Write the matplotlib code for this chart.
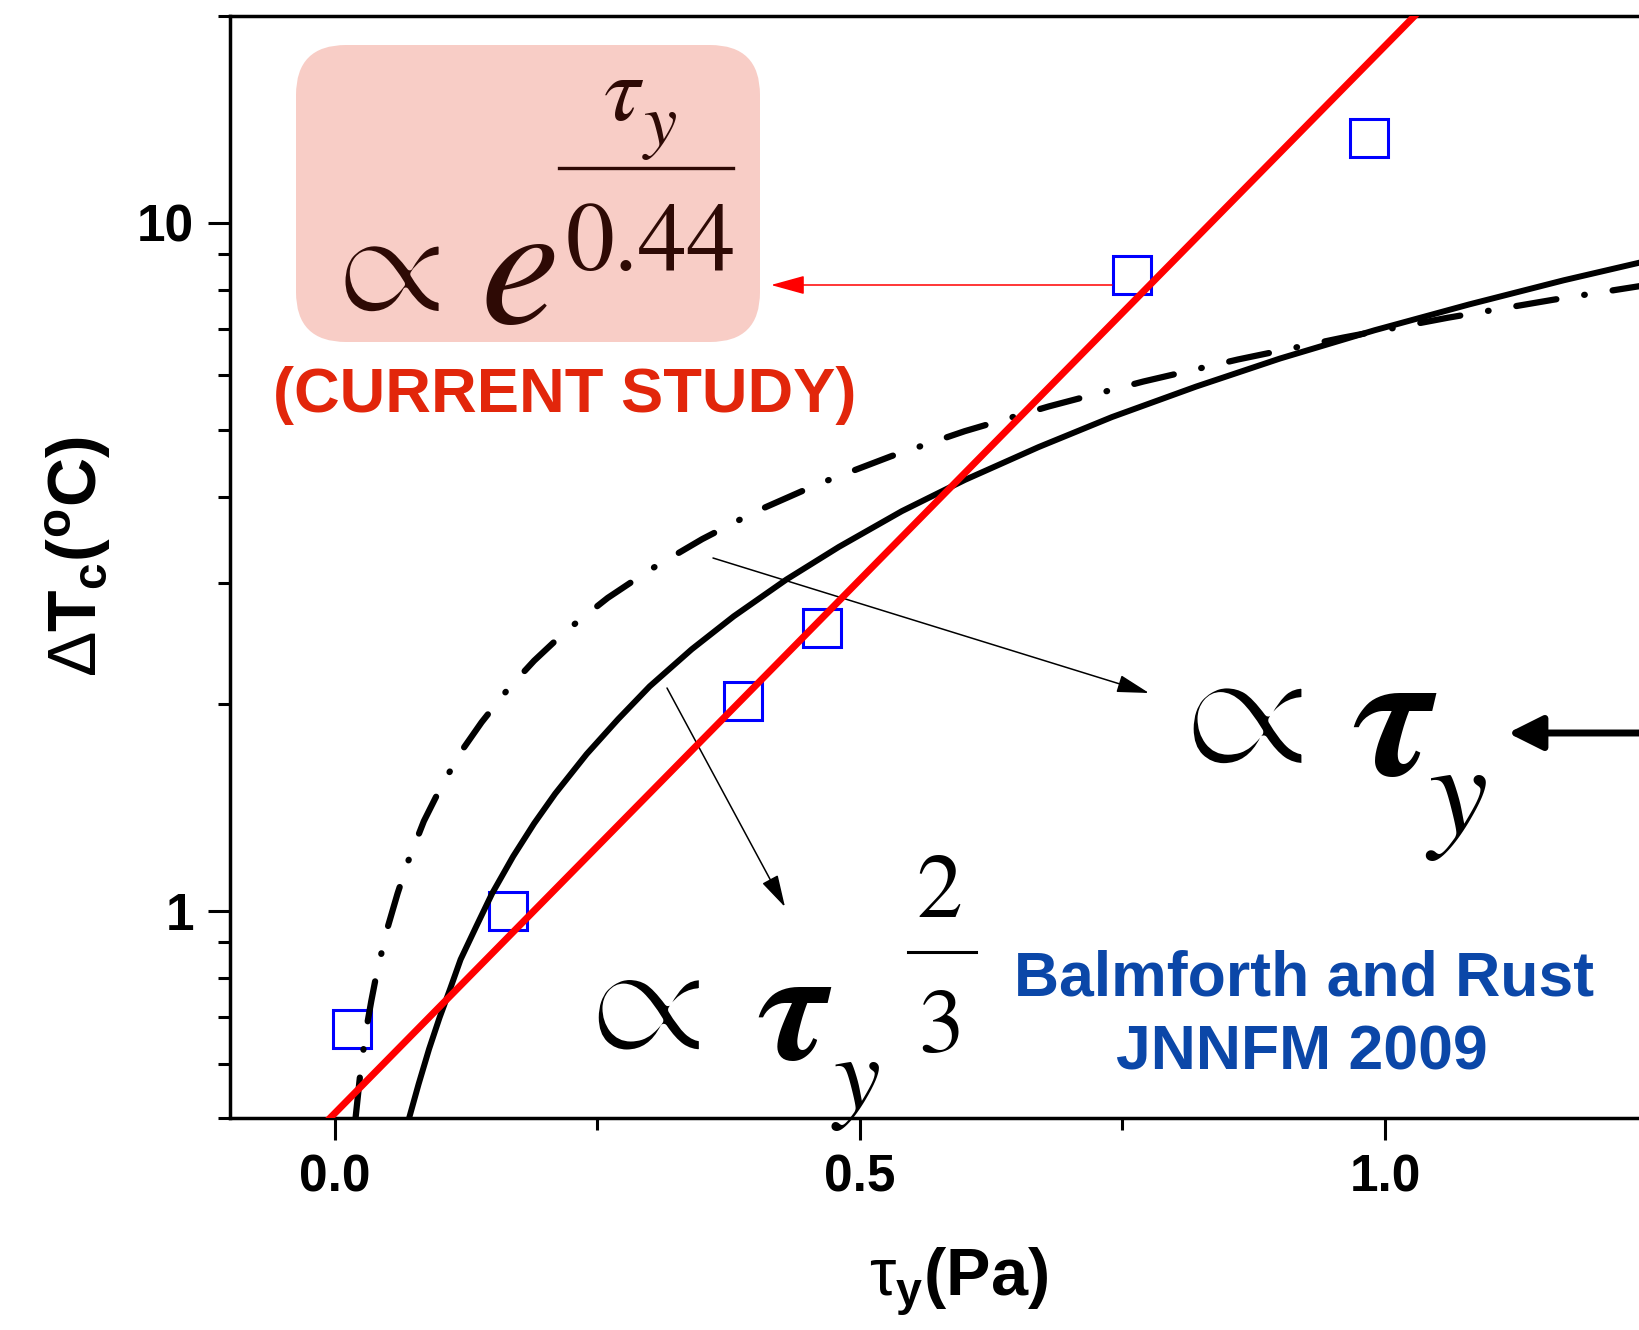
import numpy as np
import matplotlib
matplotlib.use("Agg")
import matplotlib.pyplot as plt
import matplotlib.patheffects as pe
from matplotlib.patches import FancyBboxPatch
from matplotlib.lines import Line2D
from matplotlib.ticker import LogLocator, MultipleLocator, NullFormatter

plt.rcParams.update({
    "font.family": "Liberation Sans",
    "font.weight": "bold",
    "mathtext.fontset": "custom",
    "mathtext.rm": "Liberation Sans:weight=normal",
    "mathtext.bf": "Liberation Sans:weight=bold",
    "mathtext.it": "Liberation Sans:italic:weight=normal",
})

# -----------------------------
# Data
# -----------------------------
tau_pts = [0.017, 0.165, 0.389, 0.464, 0.759, 0.985]
dT_pts = [0.674, 1.00, 2.02, 2.58, 8.40, 13.3]

# exponential fit of current study (straight on log axis)
fit_x = [-0.03, 1.06]
fit_y = [0.456, 22.4]

# Balmforth and Rust, linear scaling (solid)
lin_x = [0.071, 0.08, 0.09, 0.10, 0.11, 0.12, 0.135, 0.15, 0.17, 0.19, 0.21, 0.24,
         0.27, 0.30, 0.34, 0.38, 0.43, 0.48, 0.54, 0.60, 0.67, 0.74, 0.82, 0.90,
         0.99, 1.08, 1.17, 1.26]
lin_y = [0.50, 0.56, 0.63, 0.70, 0.77, 0.85, 0.95, 1.06, 1.20, 1.34, 1.48, 1.69,
         1.90, 2.12, 2.40, 2.68, 3.03, 3.38, 3.81, 4.23, 4.72, 5.22, 5.78, 6.35,
         6.98, 7.61, 8.25, 8.88]

# Balmforth and Rust, 2/3 power scaling (dash-dot)
pow_x = [0.020, 0.025, 0.03, 0.035, 0.04, 0.05, 0.06, 0.07, 0.085, 0.10, 0.12, 0.14,
         0.165, 0.19, 0.22, 0.26, 0.30, 0.35, 0.40, 0.46, 0.53, 0.60, 0.68, 0.77,
         0.86, 0.96, 1.06, 1.16, 1.26]
pow_y = [0.50, 0.59, 0.67, 0.74, 0.81, 0.94, 1.06, 1.18, 1.35, 1.50, 1.70, 1.88,
         2.10, 2.31, 2.55, 2.85, 3.13, 3.47, 3.80, 4.17, 4.58, 4.98, 5.41, 5.88,
         6.33, 6.81, 7.28, 7.73, 8.17]

x_ticks = [0.0, 0.5, 1.0]
x_ticklabels = ["0.0", "0.5", "1.0"]
y_ticks = [1, 10]
y_ticklabels = ["1", "10"]

# -----------------------------
# Figure (pixel layout, dpi 100)
# -----------------------------
W, H = 1639, 1330
fig = plt.figure(figsize=(W / 100, H / 100), dpi=100, facecolor="white")
T = fig.dpi_scale_trans

def px(x, y):
    return (x / 100.0, (H - y) / 100.0)

AX_L, AX_R, AX_T, AX_B = 229.5, 1700.2, 15.7, 1118.0
ax = fig.add_axes([AX_L / W, (H - AX_B) / H, (AX_R - AX_L) / W, (AX_B - AX_T) / H])

def axfrac(x, y):
    return ((x - AX_L) / (AX_R - AX_L), (AX_B - y) / (AX_B - AX_T))

ax.set_yscale("log")
ax.set_xlim(-0.1, 1.3)
ax.set_ylim(0.5, 20)

ax.plot(tau_pts, dT_pts, linestyle="none", marker="s", markersize=27.5,
        markerfacecolor="none", markeredgecolor="#0000FF", markeredgewidth=2.2, zorder=2)
ax.plot(lin_x, lin_y, color="black", lw=4.3, zorder=3, solid_joinstyle="round")
ax.plot(pow_x, pow_y, color="black", lw=4.5, zorder=3,
        linestyle=(0, (6.5, 4.5, 0.1, 4.5)), dash_capstyle="round")
ax.plot(fit_x, fit_y, color="#FF0000", lw=5.0, zorder=4)

# axes styling
ax.set_xticks(x_ticks)
ax.set_xticklabels(x_ticklabels)
ax.set_yticks(y_ticks)
ax.set_yticklabels(y_ticklabels)
ax.xaxis.set_minor_locator(MultipleLocator(0.25))
ax.yaxis.set_minor_locator(LogLocator(base=10, subs=np.arange(2, 10)))
ax.yaxis.set_minor_formatter(NullFormatter())
ax.tick_params(which="major", direction="out", length=15.6, width=2.2,
               labelsize=37, pad=10)
ax.tick_params(which="minor", direction="out", length=8.4, width=2.2)
for s in ax.spines.values():
    s.set_linewidth(2.5)

ax.set_ylabel(r"$\mathrm{\Delta}\mathbf{T}_\mathbf{c}$($^\mathbf{o}$C)",
              fontsize=49, fontweight="bold", va="baseline", ha="center")
ax.yaxis.set_label_coords(*axfrac(97, 556.5))
ax.set_xlabel(r"$\mathrm{\tau}_\mathbf{y}$(Pa)", fontsize=48, fontweight="bold",
              va="baseline", ha="center")
ax.xaxis.set_label_coords(*axfrac(959, 1295))

# -----------------------------
# Annotations
# -----------------------------
def ftext(x, y, s, size, style="normal", weight="normal", color="black", thin=None):
    t = fig.text(*px(x, y), s, transform=T, family="STIXGeneral", fontsize=size,
                 style=style, fontweight=weight, color=color, ha="left", va="baseline")
    if thin is not None:
        # erode the glyph outline a little so it reads lighter
        t.set_path_effects([pe.Normal(), pe.Stroke(linewidth=thin[0], foreground=thin[1])])
    return t

def hbar(x0, x1, y, color="black", lw=2.2):
    fig.add_artist(Line2D([x0 / 100, x1 / 100], [(H - y) / 100] * 2,
                          transform=T, color=color, lw=lw))

def arrow(x0, y0, x1, y1, color="black", lw=1.1, hl=2.0, hw=0.55):
    ax.annotate("", xy=px(x1, y1), xycoords=T, xytext=px(x0, y0), textcoords=T,
                annotation_clip=False,
                arrowprops=dict(arrowstyle=f"-|>,head_length={hl},head_width={hw}",
                                color=color, lw=lw, shrinkA=0, shrinkB=0,
                                mutation_scale=10))

# current study box
BOX_BG = "#F8CDC6"
BOX_TXT = "#2E0A05"
box = FancyBboxPatch(px(296, 342), 4.64, 2.97,
                     boxstyle="round,pad=0,rounding_size=0.5",
                     transform=T, facecolor=BOX_BG, edgecolor="none", zorder=1)
fig.add_artist(box)
ftext(336, 314, "\u221d", 118, color=BOX_TXT, thin=(4.0, BOX_BG))
ftext(480, 323, "e", 128, style="italic", color=BOX_TXT)
ftext(566, 270, "0.44", 70, color=BOX_TXT)
hbar(559, 733, 168, color=BOX_TXT, lw=2.4)
ftext(604, 120, "\u03c4", 66, style="italic", color=BOX_TXT)
ftext(644, 145, "y", 54, style="italic", color=BOX_TXT)

fig.text(*px(565, 412), "(CURRENT STUDY)", transform=T, fontsize=45.5,
         fontweight="bold", color="#E2260B", ha="center", va="baseline")
arrow(1112, 285, 771, 285, color="#FF0000", lw=1.1, hl=2.1, hw=0.58)

# Balmforth and Rust scalings
ftext(1182, 767, "\u221d", 138, thin=(5.5, "white"))
ftext(1352, 775, "\u03c4", 132, style="italic", weight="bold")
ftext(1428, 834, "y", 96, style="italic")
arrow(1700, 733, 1508, 733, lw=5.0, hl=2.1, hw=1.05)
arrow(713, 558, 1149, 693)

ftext(588, 1053, "\u221d", 128, thin=(5.0, "white"))
ftext(757, 1060, "\u03c4", 116, style="italic", weight="bold")
ftext(834, 1109, "y", 76, style="italic")
ftext(916, 917, "2", 66)
hbar(908, 976, 952, lw=2.2)
ftext(918, 1052, "3", 66)
arrow(667, 688, 785, 907)

fig.text(*px(1304, 995), "Balmforth and Rust", transform=T, fontsize=45,
         fontweight="bold", color="#0B47A8", ha="center", va="baseline")
fig.text(*px(1302, 1070), "JNNFM 2009", transform=T, fontsize=45,
         fontweight="bold", color="#0B47A8", ha="center", va="baseline")

fig.savefig("out.png", dpi=100, facecolor="white")
